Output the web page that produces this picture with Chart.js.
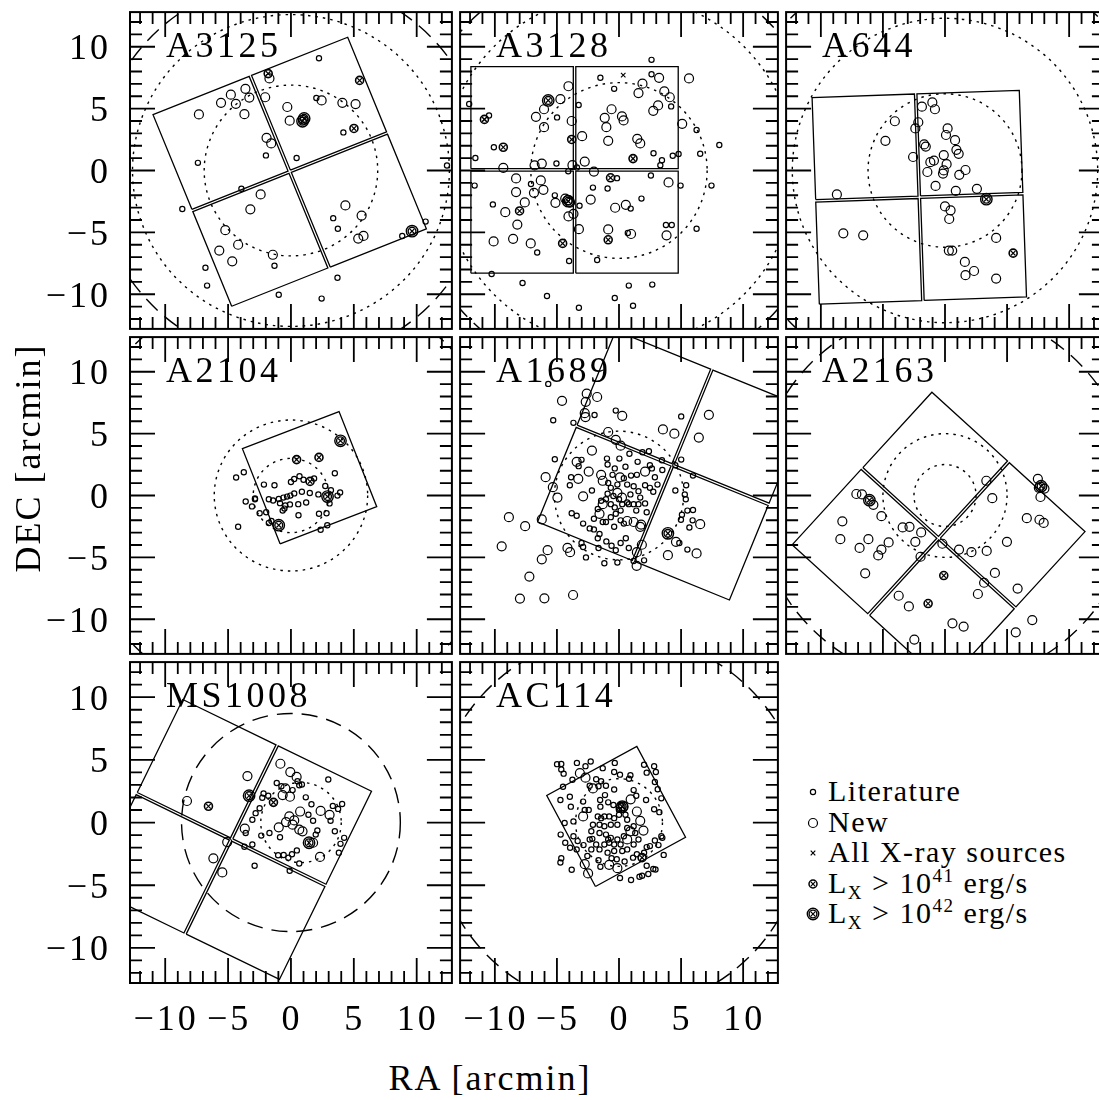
<!DOCTYPE html>
<html>
<head>
<meta charset="utf-8">
<script src="https://cdn.jsdelivr.net/npm/chart.js@4.4.0/dist/chart.umd.min.js"></script>
<style>
  body { margin: 0; background: #fff; overflow: hidden; width: 1099px; height: 1100px; position: relative;
         font-family: "Liberation Serif", serif; color: #000; }
  canvas.panel { position: absolute; }
  .axtitle { position: absolute; font-size: 36px; line-height: 40px; letter-spacing: 2px; text-align: center; white-space: nowrap; }
  .legrow { position: absolute; left: 828px; font-size: 30px; line-height: 30px; letter-spacing: 1.5px; white-space: nowrap; }
  .legrow sub { font-size: 19px; vertical-align: -6px; line-height: 0; }
  .legrow sup { font-size: 19px; vertical-align: 11px; line-height: 0; }
  .legmark { position: absolute; }
</style>
</head>
<body>
<script>
// ---- axes ----
const axisMin = -12.8;
const axisMax = 12.8;
const majorTicks = [-10, -5, 0, 5, 10];
const minorTicks = [-12, -11, -10, -9, -8, -7, -6, -5, -4, -3, -2, -1, 0, 1, 2, 3, 4, 5, 6, 7, 8, 9, 10, 11, 12];

// ---- clusters ----
const clusterNames = ['A3125', 'A3128', 'A644', 'A2104', 'A1689', 'A2163', 'MS1008', 'AC114'];
// Chandra footprint: centre, rotation (deg), number of chips
const fovCenterX = [-0.1, -3.58, -2.07, 1.48, 4.32, -0.52, -4.76, -0.23];
const fovCenterY = [-0.1, 0.05, -2.16, 1.44, 2.44, -3.45, -1.35, 0.49];
const fovAngle = [22, 0, 2, 21.3, -22.2, -42.4, -26, 28.4];
const fovChips = [4, 4, 4, 1, 4, 4, 4, 1];
const chipSize = 8.25;
const chipGap = 0.2;
// circles [cx, cy, r] in arcmin
const dottedCircles = [
  [[0, 0, 6.9], [0, 0, 12.6]],
  [[0, 0, 7.1], [0, 0, 14.2]],
  [[0, 0, 6.2], [0, 0, 12.3]],
  [[0, 0, 3.0], [0, 0, 6.1]],
  [[0, 0, 5.2]],
  [[0, 0, 2.5], [0, 0, 5.0]],
  [[0.8, 0, 3.2]],
  [[0, 0, 3.5]]
];
const dashedCircles = [
  [[0, 0, 15.5]],
  [[0, 0, 17.0]],
  [[0, 0, 17.5]],
  [[0, 0, 17.4]],
  [],
  [[0, 0, 15.2]],
  [[0, 0, 8.7]],
  [[0, 0, 15.0]]
];

// ---- galaxies (RA, DEC offsets in arcmin) ----
const a3125Lit = [[2.23,9.07],[2.02,5.86],[4.17,3.08],[0.45,1.01],[-1.99,1.22],[-7.40,0.62],[-3.94,-1.48],[-8.64,-3.11],[-6.80,-7.86],[-6.67,-9.30],[-1.31,-7.70],[3.70,-8.67],[-0.97,-10.04],[2.44,-10.35],[3.36,-3.85],[3.73,-4.71],[8.85,-5.29],[10.71,-4.13],[12.41,0.41]];
const a3125New = [[-1.71,7.44],[-7.32,4.53],[-5.56,5.47],[-4.78,6.13],[-4.38,5.39],[-3.62,6.60],[-3.31,5.89],[-3.70,4.55],[-2.05,5.92],[-0.29,5.13],[-0.10,4.03],[2.44,5.66],[4.09,5.47],[5.14,5.37],[-1.94,2.64],[-1.57,2.19],[-2.41,-1.93],[-3.23,-3.14],[-5.22,-4.82],[-5.70,-6.47],[-4.20,-6.00],[-4.67,-7.34],[-1.44,-6.81],[4.33,-2.82],[5.62,-3.64],[5.35,-5.50],[5.77,-5.29]];
const a3125Xray = [];
const a3125Lx41 = [[-1.81,7.83],[5.46,7.28],[5.01,3.40]];
const a3125Lx42 = [[1.05,4.21],[0.92,3.98],[9.63,-4.90]];

const a3128Lit = [[2.62,8.94],[-1.50,7.49],[2.62,7.78],[-0.39,6.60],[4.20,5.18],[-3.25,5.29],[-10.47,4.45],[-4.99,4.29],[-12.07,5.37],[-10.08,1.88],[-11.57,1.01],[6.25,3.27],[2.78,1.40],[3.46,0.83],[3.33,0.43],[4.33,1.19],[4.80,1.33],[6.54,1.35],[8.08,2.06],[-5.04,0.56],[-3.39,0.25],[-4.09,-0.07],[-11.63,-1.22],[-7.09,-1.09],[-10.16,-2.74],[-2.10,-1.38],[-0.92,-1.46],[-0.16,-0.62],[2.57,-0.41],[4.96,-1.22],[7.45,-1.22],[1.81,-2.27],[0.94,-3.08],[-5.17,-2.01],[-3.18,-2.85],[3.78,-4.40],[4.25,-4.40],[0.71,-5.05],[6.25,-4.71],[-6.59,-6.63],[-4.02,-7.31],[-1.76,-7.23],[-10.26,-8.36],[-7.77,-9.09],[-5.80,-10.14],[-3.23,-11.09],[-0.34,-10.30],[0.79,-9.30],[1.13,-10.93],[2.68,-9.22]];
const a3128New = [[5.64,7.44],[3.23,7.49],[1.89,7.02],[1.57,6.26],[-4.07,6.81],[-4.72,5.76],[-6.04,4.95],[-6.69,4.34],[-6.04,3.50],[-3.81,4.00],[3.65,6.39],[4.09,5.92],[3.15,5.26],[2.76,4.82],[-0.60,4.95],[-1.15,4.26],[0.24,4.37],[0.37,4.05],[-1.02,3.50],[5.09,3.77],[-0.87,2.40],[-2.97,2.77],[1.47,2.56],[1.71,2.19],[-2.76,0.72],[-6.22,0.56],[-6.80,0.41],[-9.32,0.22],[-3.75,0.43],[-2.02,-0.09],[-8.29,-0.64],[-6.30,-0.80],[-6.09,-1.56],[-8.29,-1.74],[-6.85,-1.80],[-7.59,-2.58],[-5.12,-2.61],[-9.16,-3.37],[-8.19,-4.37],[-10.10,-5.73],[-8.53,-5.52],[-7.11,-5.89],[-4.12,-2.40],[-3.94,-2.59],[-4.33,-2.27],[-3.67,-3.50],[-4.07,-3.71],[-3.23,-4.74],[-2.28,-2.35],[-0.31,-3.01],[0.55,-2.77],[-0.87,-4.76],[0.97,-5.13],[3.83,-5.24],[3.99,-0.96]];
const a3128Xray = [[0.34,7.70],[-10.84,4.13]];
const a3128Lx41 = [[-9.32,1.88],[-3.81,2.51],[1.13,0.96],[-0.68,-0.59],[-8.01,-3.27],[-0.87,-5.60],[-4.54,-5.89],[-10.84,4.13]];
const a3128Lx42 = [[-4.09,-2.48],[-5.70,5.66]];

const a644Lit = [];
const a644New = [[-1.02,5.50],[-1.86,5.16],[-0.81,4.95],[-4.04,3.98],[-2.15,3.90],[-2.39,3.40],[0.21,3.40],[0.08,2.87],[-4.80,2.40],[0.81,2.45],[-1.68,2.11],[-1.55,1.93],[0.92,1.67],[1.10,1.35],[-2.57,1.09],[-0.10,1.25],[0.13,0.51],[-1.18,0.67],[-0.89,0.80],[-0.10,0.01],[-0.16,-0.25],[-1.42,-0.12],[1.65,0.04],[1.15,-0.35],[-0.76,-1.25],[0.87,-1.64],[2.57,-1.48],[-8.71,-1.93],[0.00,-2.90],[0.45,-3.22],[0.34,-3.92],[-8.19,-5.08],[-6.59,-5.24],[4.12,-5.45],[0.31,-6.47],[0.58,-6.47],[1.60,-7.39],[2.34,-8.12],[1.65,-8.46],[4.12,-8.73]];
const a644Xray = [];
const a644Lx41 = [[5.49,-6.68]];
const a644Lx42 = [[3.33,-2.32]];

const a2104Lit = [[-4.36,1.46],[-3.75,1.88],[-2.15,0.88],[-1.31,0.83],[0.00,1.09],[0.26,1.33],[0.68,1.56],[1.00,1.27],[1.84,1.38],[3.49,1.80],[2.73,0.77],[3.18,0.43],[3.91,0.25],[3.70,-0.01],[2.18,0.09],[1.50,0.20],[0.87,0.30],[0.26,0.17],[-0.05,-0.01],[-0.31,-0.09],[-0.60,-0.17],[-0.97,-0.28],[-1.42,-0.41],[-1.76,-0.30],[-2.86,-0.30],[-2.86,-0.24],[-3.60,-0.49],[-3.10,-0.88],[-2.49,-1.44],[-1.97,-1.35],[-0.87,-0.62],[-0.45,-0.80],[-0.08,-0.72],[0.58,-0.70],[1.21,-0.56],[-0.66,-1.22],[-0.52,-1.06],[0.60,-1.59],[2.23,-1.48],[2.83,-1.43],[-4.20,-2.53],[-1.76,-2.22],[-1.55,-2.06],[2.36,-2.77],[2.89,-2.40],[3.07,-0.64]];
const a2104New = [];
const a2104Xray = [];
const a2104Lx41 = [[0.45,2.90],[2.23,3.08],[1.52,1.14]];
const a2104Lx42 = [[3.94,4.42],[2.91,-0.09],[-0.97,-2.40]];

const a1689Lit = [[-5.70,9.02],[-5.30,6.08],[-3.67,5.87],[-1.97,6.50],[-0.26,6.86],[5.01,6.39],[-5.17,2.93],[-3.02,2.88],[-3.25,2.37],[-0.97,2.98],[-0.92,2.51],[0.03,2.98],[0.84,3.37],[1.89,3.50],[2.41,3.58],[1.50,2.72],[0.52,2.32],[-0.34,2.19],[-0.52,1.67],[2.49,2.45],[2.65,2.19],[3.49,2.06],[3.46,2.85],[5.01,2.90],[4.54,2.45],[5.96,1.61],[5.41,0.83],[4.54,0.41],[5.30,0.09],[5.38,-0.30],[5.96,-1.17],[5.51,-1.22],[5.07,-1.56],[4.99,-1.96],[5.93,-2.01],[5.67,-2.58],[4.86,-3.84],[5.51,-4.37],[-3.86,1.48],[-3.96,0.83],[-2.18,0.41],[-3.81,-1.44],[-3.41,-1.64],[-2.89,-2.27],[-2.36,-2.66],[-2.02,-2.74],[-1.57,-3.11],[-1.71,-3.45],[-1.02,-3.71],[-0.26,-4.42],[-0.60,-4.06],[0.13,-3.84],[0.79,-4.24],[0.55,-3.45],[-3.02,-3.84],[-2.89,-4.16],[-2.66,-5.00],[-1.65,-4.24],[-1.18,-5.47],[-0.13,-5.42],[2.02,-5.24],[1.18,-5.29],[2.23,-1.35],[2.10,-0.64],[1.71,-0.17],[1.18,0.75],[1.57,0.35],[0.92,0.09],[0.66,0.88],[0.39,1.40],[-0.66,0.62],[-0.87,1.01],[-0.13,0.88],[-1.05,-0.30],[-0.66,-0.70],[-0.34,-0.96],[0.13,-1.22],[-0.26,-1.48],[-0.66,-1.75],[-1.05,-2.14],[-0.39,-2.53],[0.39,-2.27],[1.39,-1.22],[2.89,1.48],[3.10,0.88],[2.49,0.62],[2.76,0.30],[2.10,0.83],[0.97,1.61],[1.44,1.67],[0.66,-0.56],[0.26,-0.70],[0.00,-0.30],[-0.45,-0.04],[-0.92,0.14],[-1.44,-0.43],[-1.71,-1.09],[-2.02,-1.88],[-1.31,-2.14],[0.13,-2.01],[0.79,-0.70],[1.18,-0.70],[1.57,-0.70]];
const a1689New = [[-4.59,7.65],[-2.60,8.23],[-1.76,7.96],[-2.68,7.57],[-2.76,6.65],[-2.70,6.34],[0.26,6.44],[7.24,6.52],[3.54,5.34],[4.46,5.00],[6.43,4.68],[-0.87,5.13],[-0.26,4.50],[0.13,4.03],[-2.18,3.63],[-3.41,2.72],[-2.44,1.93],[-5.91,1.48],[-3.28,1.35],[-1.44,1.67],[-1.31,1.19],[0.08,1.46],[2.10,1.93],[-5.33,0.67],[-4.96,-0.17],[-2.89,-0.07],[0.24,-0.17],[-0.13,0.22],[-1.31,-0.70],[-1.57,-1.48],[0.66,-2.06],[1.18,-2.14],[1.71,-2.53],[-8.87,-1.75],[-7.56,-2.48],[-6.22,-1.93],[-9.45,-4.11],[-5.75,-4.42],[-6.22,-5.16],[-4.15,-4.24],[-3.94,-4.58],[1.84,-3.98],[1.44,-4.58],[1.42,-5.68],[3.94,-4.82],[4.59,-3.74],[6.25,-4.68],[6.54,-2.32],[-7.22,-6.55],[-7.98,-8.33],[-6.01,-8.31],[-3.70,-8.04],[1.78,-2.35]];
const a1689Xray = [];
const a1689Lx41 = [];
const a1689Lx42 = [[3.94,-3.06]];

const a2163Lit = [];
const a2163New = [[3.33,1.19],[3.81,-0.22],[7.48,1.35],[7.56,0.62],[8.01,0.56],[7.69,-0.12],[6.59,-1.83],[7.61,-1.96],[7.95,-2.22],[4.99,-3.74],[-7.14,0.12],[-6.69,0.09],[-5.77,-0.75],[-5.12,-1.67],[-8.27,-2.09],[-8.43,-3.53],[-6.17,-3.53],[-6.88,-4.24],[-5.12,-4.37],[-4.54,-3.79],[-5.38,-4.84],[-3.41,-2.58],[-2.86,-2.53],[-1.92,-2.98],[-2.39,-3.74],[-1.97,-4.95],[-0.21,-3.90],[1.13,-4.37],[2.13,-4.58],[3.36,-4.48],[4.02,-6.26],[3.15,-7.05],[2.65,-7.96],[5.85,-7.52],[-6.43,-6.29],[-3.73,-8.10],[-2.91,-8.96],[0.60,-10.33],[1.50,-10.59],[-2.47,-11.64],[5.70,-11.06],[7.03,-10.07]];
const a2163Xray = [];
const a2163Lx41 = [[-0.10,-6.47],[-1.36,-8.73]];
const a2163Lx42 = [[-6.09,-0.38],[7.74,0.75]];

const ms1008Lit = [[2.97,3.43],[-1.13,3.16],[-0.76,2.90],[0.52,3.29],[0.66,2.98],[0.87,3.03],[0.13,2.59],[-2.18,2.32],[-1.81,2.14],[-2.28,1.98],[1.18,2.01],[1.63,1.46],[3.33,1.33],[3.75,1.09],[4.07,1.48],[3.15,0.14],[1.39,0.62],[1.76,0.14],[-2.49,1.14],[-2.81,0.75],[-3.07,0.22],[-3.60,-0.83],[-2.36,-1.04],[-3.07,-1.75],[-3.70,-1.93],[-0.87,-1.17],[2.10,-0.64],[1.97,-0.96],[3.49,-0.70],[4.23,-1.22],[3.94,-1.70],[3.81,-2.40],[0.47,-2.22],[0.08,-2.53],[-0.21,-2.80],[-0.58,-2.59],[-1.02,-2.61],[-2.89,-3.45],[-0.10,-3.84],[0.66,-3.27],[-1.71,-0.83]];
const ms1008New = [[-0.84,4.69],[-0.05,4.03],[0.45,3.64],[-3.46,3.71],[-8.27,1.72],[-3.67,-0.49],[-5.07,-1.56],[-6.17,-2.85],[-5.46,-3.98],[2.36,0.93],[3.07,0.62],[0.73,0.88],[-0.13,0.49],[-0.39,0.04],[0.13,-0.17],[0.66,-0.56],[0.92,-0.70],[-0.97,-0.38],[0.26,0.17],[2.31,-2.74],[1.76,-1.61],[-0.45,2.72],[-0.08,2.06],[-0.66,2.19]];
const ms1008Xray = [];
const ms1008Lx41 = [[-6.56,1.30],[-1.39,1.61]];
const ms1008Lx42 = [[-3.33,2.14],[1.44,-1.61]];

const ac114Lit = [[-4.99,4.66],[-4.65,4.68],[-4.65,4.24],[-4.46,3.90],[-3.39,4.76],[-2.70,4.50],[-2.28,4.87],[-3.75,3.42],[-4.51,2.85],[-1.31,4.34],[-0.34,4.76],[-0.39,4.03],[0.08,3.82],[0.81,3.50],[0.92,3.77],[2.02,4.61],[2.83,4.50],[2.97,4.03],[2.23,3.98],[2.89,3.24],[3.12,2.66],[-1.84,3.45],[-1.44,3.29],[-1.05,2.93],[-1.65,2.90],[-2.36,2.93],[-0.39,2.64],[-1.13,2.19],[-1.52,1.80],[-1.50,1.27],[-0.87,1.61],[-0.45,1.40],[1.18,2.59],[1.39,2.14],[2.18,1.80],[3.41,1.93],[2.83,1.06],[3.25,0.83],[-4.72,1.80],[-3.96,2.06],[-3.88,1.27],[-2.89,1.67],[-2.76,1.01],[-2.44,1.01],[-3.67,0.09],[-4.38,-0.04],[-4.70,-0.96],[-4.33,-1.61],[-3.94,-2.01],[-3.67,-1.09],[-3.33,-1.48],[-2.86,-1.80],[-3.41,-2.14],[-2.36,-1.35],[-2.15,-1.30],[-2.23,-2.14],[-1.84,-1.75],[-1.57,-2.14],[-2.55,-2.66],[-4.65,-2.85],[-4.72,-3.19],[-3.81,-3.77],[-1.65,-3.01],[-1.50,-3.53],[-0.60,-2.85],[-0.18,-2.93],[0.45,-3.11],[0.08,-4.42],[0.97,-4.58],[1.65,-4.32],[1.86,-4.24],[2.23,-3.45],[2.36,-4.11],[2.76,-3.71],[2.94,-3.74],[3.60,-2.58],[1.13,-2.80],[1.44,-2.53],[2.02,-2.40],[2.23,-1.96],[2.49,-1.88],[2.89,-1.43],[3.41,-1.09],[3.49,-1.22],[3.18,-1.80],[-1.44,0.35],[-1.71,0.49],[-1.18,0.49],[-0.79,0.49],[-0.39,0.35],[0.00,0.62],[0.52,0.62],[0.66,0.22],[-0.13,-0.17],[-0.66,-0.17],[-1.18,-0.30],[-1.57,-0.17],[-2.10,-0.17],[-2.23,-0.70],[-1.57,-0.83],[-1.05,-0.96],[-0.66,-1.22],[-0.79,-1.61],[-0.39,-1.75],[-0.13,-1.35],[0.13,-1.75],[0.39,-1.09],[0.66,-0.43],[1.18,-0.30],[1.31,-0.83],[1.57,-1.35],[1.18,-1.75],[0.66,-2.14],[0.26,-2.27],[-0.39,-2.27],[-0.92,-2.40],[-1.18,-1.75],[-0.87,-1.35],[0.13,1.40],[0.26,1.01],[0.00,1.01]];
const ac114New = [[-3.15,3.94],[-2.70,3.58],[-2.10,2.72],[-2.89,0.49],[0.94,1.85],[1.44,0.88],[1.71,0.14],[1.97,-0.64],[0.92,-0.70],[0.66,-1.35],[-0.79,-3.37],[-0.13,-3.64],[-2.49,-4.06],[-2.76,-3.32],[0.13,1.14],[0.34,1.27]];
const ac114Xray = [];
const ac114Lx41 = [[1.86,-2.80]];
const ac114Lx42 = [[0.26,1.27]];

const litSets = [a3125Lit, a3128Lit, a644Lit, a2104Lit, a1689Lit, a2163Lit, ms1008Lit, ac114Lit];
const newSets = [a3125New, a3128New, a644New, a2104New, a1689New, a2163New, ms1008New, ac114New];
const xraySets = [a3125Xray, a3128Xray, a644Xray, a2104Xray, a1689Xray, a2163Xray, ms1008Xray, ac114Xray];
const lx41Sets = [a3125Lx41, a3128Lx41, a644Lx41, a2104Lx41, a1689Lx41, a2163Lx41, ms1008Lx41, ac114Lx41];
const lx42Sets = [a3125Lx42, a3128Lx42, a644Lx42, a2104Lx42, a1689Lx42, a2163Lx42, ms1008Lx42, ac114Lx42];

const legendLabels = ['Literature', 'New', 'All X-ray sources', 'L<sub>X</sub> &gt; 10<sup>41</sup> erg/s', 'L<sub>X</sub> &gt; 10<sup>42</sup> erg/s'];
const legendKinds = ['lit', 'new', 'xray', 'lx41', 'lx42'];

// ---- layout ----
const gridLeft = 130, gridTop = 8, cellW = 326, cellH = 325;
const FONT = '"Liberation Serif", serif';

// legend glyphs (the plots use Chart.js point styles of the same sizes)
function markerImage(kind) {
  const c = document.createElement('canvas');
  c.width = 16; c.height = 16;
  const g = c.getContext('2d');
  const m = 8;
  g.strokeStyle = '#000';
  const ring = (r, w) => { g.lineWidth = w; g.beginPath(); g.arc(m, m, r, 0, Math.PI * 2); g.stroke(); };
  const cross = (h, w) => {
    g.lineWidth = w; g.beginPath();
    g.moveTo(m - h, m - h); g.lineTo(m + h, m + h);
    g.moveTo(m + h, m - h); g.lineTo(m - h, m + h);
    g.stroke();
  };
  if (kind === 'lit') ring(2.6, 1.2);
  else if (kind === 'new') ring(4.5, 1.2);
  else if (kind === 'xray') cross(2.3, 1.2);
  else if (kind === 'lx41') { ring(4, 1.5); cross(2.3, 1.2); }
  else if (kind === 'lx42') { ring(5.7, 1.4); ring(3.9, 1.4); cross(2.3, 1.2); }
  return c;
}

const toPts = arr => arr.map(p => ({x: p[0], y: p[1]}));

function chipOutlines(cx, cy, angle, n) {
  const a = angle * Math.PI / 180, ca = Math.cos(a), sa = Math.sin(a);
  const d = (chipSize + chipGap) / 2, h = chipSize / 2;
  const offs = n === 4 ? [[-d, -d], [d, -d], [-d, d], [d, d]] : [[0, 0]];
  return offs.map(([ox, oy]) =>
    [[-h, -h], [h, -h], [h, h], [-h, h], [-h, -h]].map(([u, v]) => {
      const px = ox + u, py = oy + v;
      return {x: cx + px * ca - py * sa, y: cy + px * sa + py * ca};
    })
  );
}

function tickText(v) {
  return v < 0 ? '\u2212' + Math.abs(v) : String(v);
}

function framePlugin(i, leftLabels, bottomLabels) {
  return {
    id: 'frame' + i,
    beforeDatasetsDraw(chart) {
      const {ctx, chartArea: ca, scales: {x, y}} = chart;
      ctx.save();
      ctx.beginPath();
      ctx.rect(ca.left, ca.top, ca.right - ca.left, ca.bottom - ca.top);
      ctx.clip();
      ctx.strokeStyle = '#000';
      ctx.lineWidth = 1.4;
      const ring = ([cx, cy, r]) => {
        const px = x.getPixelForValue(cx), py = y.getPixelForValue(cy);
        const rx = Math.abs(x.getPixelForValue(cx + r) - px);
        const ry = Math.abs(y.getPixelForValue(cy + r) - py);
        ctx.beginPath();
        ctx.ellipse(px, py, rx, ry, 0, 0, Math.PI * 2);
        ctx.stroke();
      };
      ctx.setLineDash([2.5, 5]);
      dottedCircles[i].forEach(ring);
      ctx.setLineDash([16, 9]);
      dashedCircles[i].forEach(ring);
      ctx.restore();
    },
    afterDraw(chart) {
      const {ctx, chartArea: ca, scales: {x, y}} = chart;
      ctx.save();
      ctx.strokeStyle = '#000';
      ctx.lineWidth = 1.8;
      ctx.beginPath();
      minorTicks.forEach(v => {
        const len = majorTicks.includes(v) ? 25 : 12;
        const px = x.getPixelForValue(v), py = y.getPixelForValue(v);
        ctx.moveTo(px, ca.bottom); ctx.lineTo(px, ca.bottom - len);
        ctx.moveTo(px, ca.top); ctx.lineTo(px, ca.top + len);
        ctx.moveTo(ca.left, py); ctx.lineTo(ca.left + len, py);
        ctx.moveTo(ca.right, py); ctx.lineTo(ca.right - len, py);
      });
      ctx.stroke();
      ctx.lineWidth = 2;
      ctx.strokeRect(ca.left, ca.top, ca.right - ca.left, ca.bottom - ca.top);

      ctx.fillStyle = '#000';
      ctx.font = '36px ' + FONT;
      ctx.letterSpacing = '3.5px';
      ctx.textAlign = 'left';
      ctx.textBaseline = 'alphabetic';
      ctx.fillText(clusterNames[i], ca.left + 36, ca.top + 45);

      ctx.letterSpacing = '3px';
      if (leftLabels) {
        ctx.textAlign = 'right';
        ctx.textBaseline = 'middle';
        majorTicks.forEach(v => ctx.fillText(tickText(v), ca.left - 19, y.getPixelForValue(v) + 3));
      }
      if (bottomLabels) {
        ctx.textAlign = 'center';
        ctx.textBaseline = 'middle';
        majorTicks.forEach(v => ctx.fillText(tickText(v), x.getPixelForValue(v) + 1, ca.bottom + 38));
      }
      ctx.restore();
    }
  };
}

// one scatter layer of a marker type
function markerSet(arr, style, radius, width) {
  return {
    data: toPts(arr), pointStyle: style, pointRadius: radius, pointBorderWidth: width,
    borderColor: '#000', backgroundColor: 'rgba(0,0,0,0)', pointHoverRadius: radius
  };
}

clusterNames.forEach((name, i) => {
  const col = i % 3, row = Math.floor(i / 3);
  const isLeft = col === 0;
  const isBottom = row === 2;
  const padL = isLeft ? 130 : 3, padR = 3, padT = 3, padB = isBottom ? 70 : 3;
  const cv = document.createElement('canvas');
  cv.className = 'panel';
  cv.width = cellW + padL + padR;
  cv.height = cellH + padT + padB;
  cv.style.left = (gridLeft + col * cellW - padL) + 'px';
  cv.style.top = (gridTop + row * cellH - padT) + 'px';
  document.body.appendChild(cv);

  const chipSets = chipOutlines(fovCenterX[i], fovCenterY[i], fovAngle[i], fovChips[i]).map(poly => ({
    data: poly, showLine: true, pointRadius: 0,
    borderColor: '#000', borderWidth: 1.3, fill: false, tension: 0
  }));

  new Chart(cv, {
    type: 'scatter',
    data: {
      datasets: [
        ...chipSets,
        markerSet(litSets[i], 'circle', 2.6, 1.2),
        markerSet(newSets[i], 'circle', 4.5, 1.2),
        markerSet(xraySets[i], 'crossRot', 3.2, 1.1),
        markerSet(lx41Sets[i], 'circle', 4.0, 1.6),
        markerSet(lx41Sets[i], 'crossRot', 3.3, 1.2),
        markerSet(lx42Sets[i], 'circle', 5.7, 1.4),
        markerSet(lx42Sets[i], 'circle', 3.9, 1.4),
        markerSet(lx42Sets[i], 'crossRot', 3.3, 1.2)
      ]
    },
    options: {
      responsive: false,
      animation: false,
      events: [],
      layout: {padding: {left: padL, right: padR, top: padT, bottom: padB}},
      scales: {
        x: {type: 'linear', min: axisMin, max: axisMax, display: false},
        y: {type: 'linear', min: axisMin, max: axisMax, display: false}
      },
      plugins: {legend: {display: false}, tooltip: {enabled: false}}
    },
    plugins: [framePlugin(i, isLeft, isBottom)]
  });
});

// axis titles
const ra = document.createElement('div');
ra.className = 'axtitle';
ra.textContent = 'RA [arcmin]';
ra.style.left = '190px'; ra.style.width = '600px'; ra.style.top = '1058px';
document.body.appendChild(ra);

const dec = document.createElement('div');
dec.className = 'axtitle';
dec.textContent = 'DEC [arcmin]';
dec.style.left = (28 - 150) + 'px'; dec.style.width = '300px'; dec.style.top = (458 - 20) + 'px';
dec.style.transform = 'rotate(-90deg)';
document.body.appendChild(dec);

// legend
legendKinds.forEach((k, j) => {
  const base = 801 + j * 30.5;
  const row = document.createElement('div');
  row.className = 'legrow';
  row.innerHTML = legendLabels[j];
  row.style.top = (base - 25) + 'px';
  document.body.appendChild(row);
  const mk = markerImage(k);
  mk.className = 'legmark';
  mk.style.left = (813 - 8) + 'px';
  mk.style.top = (base - 9 - 8) + 'px';
  document.body.appendChild(mk);
});
</script>
</body>
</html>
